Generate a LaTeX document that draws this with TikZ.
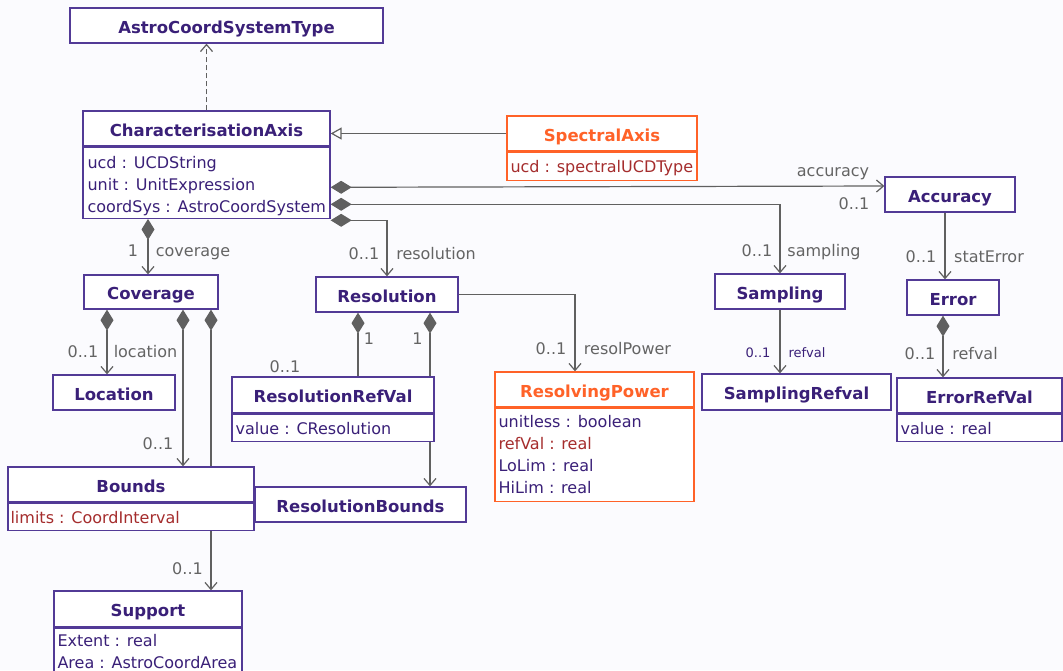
\documentclass[tikz,border=0pt]{standalone}
\usepackage{fontspec}
\setmainfont{DejaVu Sans}
\usetikzlibrary{arrows.meta,backgrounds}

\definecolor{umlline}{RGB}{82,58,150}
\definecolor{umltext}{RGB}{58,32,120}
\definecolor{umlorange}{RGB}{255,98,40}
\definecolor{attrred}{RGB}{165,45,45}
\definecolor{linkgray}{RGB}{96,96,96}
\definecolor{lblgray}{RGB}{100,100,100}
\definecolor{paper}{RGB}{251,251,254}

\tikzset{
  cls/.style={draw=umlline,fill=white,line width=1.3pt,text=umltext,inner sep=0pt,text height=15pt,text depth=0pt,font=\fontsize{16.5}{20}\selectfont\bfseries},
  clsor/.style={cls,draw=umlorange,text=umlorange},
  body/.style={draw=umlline,fill=white,line width=1.3pt,inner sep=0pt,anchor=north},
  attrs/.style={anchor=north west,inner sep=0pt,align=left,text=umltext,font=\fontsize{16}{22}\selectfont},
  lbl/.style={anchor=base,inner sep=0pt,text=lblgray,font=\fontsize{16}{19}\selectfont},
  lblsm/.style={lbl,text=umltext,font=\fontsize{13}{16}\selectfont},
  link/.style={draw=linkgray,line width=1.2pt},
  assoc/.style={link,-{Straight Barb[length=7pt,width=12pt]}},
  comp/.style={link,{Diamond[length=21pt,width=13pt]}-{Straight Barb[length=7pt,width=12pt]}},
  compx/.style={link,{Diamond[length=21pt,width=13pt]}-},
  gen/.style={link,-{Triangle[open,length=11pt,width=12pt,fill=white]}},
  dep/.style={link,dash pattern=on 5pt off 3pt,-{Straight Barb[length=7pt,width=12pt]}}
}

\begin{document}
\begin{tikzpicture}[x=1pt,y=-1pt]
\begin{scope}[on background layer]
\fill[paper] (0,0) rectangle (1063,670);
\end{scope}
\useasboundingbox (0,0) rectangle (1063,670);

% classes
\node[cls,minimum width=313pt,minimum height=35pt] (acst) at (226.5,25.5) {AstroCoordSystemType};

\node[cls,minimum width=247pt,minimum height=35pt] (chaxT) at (206.5,128.5) {CharacterisationAxis};
\node[body,minimum width=247pt,minimum height=71pt] (chaxB) at (chaxT.south) {};
\node[attrs] (chaxA) at ([xshift=5pt,yshift=-9pt]chaxB.north west) {ucd : UCDString\\unit : UnitExpression\\coordSys : AstroCoordSystem};

\node[clsor,minimum width=190pt,minimum height=35pt] (specT) at (602,133.5) {SpectralAxis};
\node[body,draw=umlorange,minimum width=190pt,minimum height=28pt] (specB) at (specT.south) {};
\node[attrs,text=attrred] (specA) at ([xshift=4pt,yshift=-8pt]specB.north west) {ucd : spectralUCDType};

\node[cls,minimum width=130pt,minimum height=35pt] (acc) at (950,194.5) {Accuracy};
\node[cls,minimum width=92pt,minimum height=35pt] (err) at (953,297.5) {Error};
\node[cls,minimum width=165pt,minimum height=35pt] (ervT) at (979.5,395.5) {ErrorRefVal};
\node[body,minimum width=165pt,minimum height=27pt] (ervB) at (ervT.south) {};
\node[attrs] (ervA) at ([xshift=4pt,yshift=-8pt]ervB.north west) {value : real};

\node[cls,minimum width=130pt,minimum height=35pt] (samp) at (780,291.5) {Sampling};
\node[cls,minimum width=189pt,minimum height=36pt] (srv) at (796.5,392) {SamplingRefval};

\node[cls,minimum width=134pt,minimum height=34pt] (cov) at (151,292) {Coverage};
\node[cls,minimum width=142pt,minimum height=35pt] (res) at (387,294.5) {Resolution};
\node[cls,minimum width=122pt,minimum height=35pt] (loc) at (114,392.5) {Location};

\node[cls,minimum width=202pt,minimum height=36pt] (rrvT) at (333,395) {ResolutionRefVal};
\node[body,minimum width=202pt,minimum height=27pt] (rrvB) at (rrvT.south) {};
\node[attrs] (rrvA) at ([xshift=4pt,yshift=-8pt]rrvB.north west) {value : CResolution};

\node[cls,minimum width=246pt,minimum height=35pt] (bndT) at (131,484.5) {Bounds};
\node[body,minimum width=246pt,minimum height=27pt] (bndB) at (bndT.south) {};
\node[attrs,text=attrred] (bndA) at ([xshift=3pt,yshift=-8pt]bndB.north west) {limits : CoordInterval};

\node[cls,minimum width=211pt,minimum height=35pt] (rb) at (360.5,504.5) {ResolutionBounds};

\node[clsor,minimum width=199pt,minimum height=35pt] (rpT) at (594.5,389.5) {ResolvingPower};
\node[body,draw=umlorange,minimum width=199pt,minimum height=93pt] (rpB) at (rpT.south) {};
\node[attrs] (rpA) at ([xshift=4pt,yshift=-7pt]rpB.north west) {unitless : boolean\\\textcolor{attrred}{refVal : real}\\LoLim : real\\HiLim : real};

\node[cls,minimum width=188pt,minimum height=36pt] (supT) at (148,609) {Support};
\node[body,minimum width=188pt,minimum height=53pt] (supB) at (supT.south) {};
\node[attrs] (supA) at ([xshift=4pt,yshift=-6pt]supB.north west) {Extent : real\\Area : AstroCoordArea};

% labels
\node[lbl] (lCovM) at (133,256) {1};
\node[lbl] (lCovR) at (193,256) {coverage};
\node[lbl] (lResM) at (364,259) {0..1};
\node[lbl] (lResR) at (436,259) {resolution};
\node[lbl] (lAccR) at (833,176) {accuracy};
\node[lbl] (lAccM) at (854,209) {0..1};
\node[lbl] (lSmpM) at (757,256) {0..1};
\node[lbl] (lSmpR) at (824,256) {sampling};
\node[lbl] (lStatM) at (921,262) {0..1};
\node[lbl] (lStatR) at (989,262) {statError};
\node[lbl] (lErvM) at (920,359) {0..1};
\node[lbl] (lErvR) at (975,359) {refval};
\node[lblsm] (lSrvM) at (758,357) {0..1};
\node[lblsm] (lSrvR) at (807,357) {refval};
\node[lbl] (lLocM) at (83,357) {0..1};
\node[lbl] (lLocR) at (145.5,357) {location};
\node[lbl] (lBndM) at (158,449) {0..1};
\node[lbl] (lSupM) at (187.5,574) {0..1};
\node[lbl] (lRrvO) at (369,344) {1};
\node[lbl] (lRrvM) at (285,372) {0..1};
\node[lbl] (lRbO) at (417.5,344) {1};
\node[lbl] (lRpM) at (551,354) {0..1};
\node[lbl] (lRpR) at (627.5,354) {resolPower};

% links
\begin{scope}[on background layer]
\draw[dep] (chaxT.north) -- (chaxT.north |- acst.south);
\draw[gen] (specT.west) -- (chaxT.east |- specT.west);
\draw[comp] ([yshift=-4.5pt]chaxB.east) -- ([yshift=8.5pt]acc.west);
\draw[comp] ([yshift=-21.5pt]chaxB.east) -| (samp.north);
\draw[comp] ([yshift=-37.5pt]chaxB.east) -| (res.north);
\draw[comp] ([xshift=-58.5pt]chaxB.south) -- ([xshift=-3pt]cov.north);
\draw[assoc] ([xshift=-5pt]acc.south) -- ([xshift=-8pt]err.north);
\draw[comp] ([xshift=-10pt]err.south) -- ([xshift=-36.5pt]ervT.north);
\draw[assoc] (samp.south) -- ([xshift=-16.5pt]srv.north);
\draw[comp] ([xshift=-44pt]cov.south) -- ([xshift=-7pt]loc.north);
\draw[comp] ([xshift=32pt]cov.south) -- ([xshift=52pt]bndT.north);
\draw[comp] ([xshift=60pt]cov.south) -- ([xshift=63pt]supT.north);
\draw[compx] ([xshift=-29pt]res.south) -- ([xshift=25pt]rrvT.north);
\draw[comp] ([xshift=43pt]res.south) -- ([xshift=69.5pt]rb.north);
\draw[assoc] (res.east) -| ([xshift=-19.5pt]rpT.north);
\end{scope}
\end{tikzpicture}
\end{document}
